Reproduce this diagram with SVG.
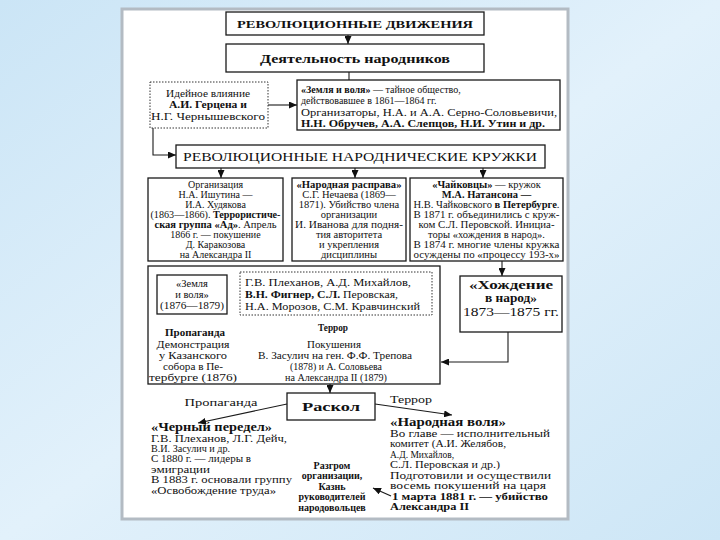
<svg xmlns="http://www.w3.org/2000/svg" width="720" height="540" viewBox="0 0 720 540">
<defs>
<linearGradient id="bg" x1="0" y1="0" x2="1" y2="1">
<stop offset="0" stop-color="#cbe5f6"/>
<stop offset="0.5" stop-color="#e2f1fb"/>
<stop offset="1" stop-color="#cde6f6"/>
</linearGradient>
<marker id="ah" markerWidth="8" markerHeight="7" refX="8" refY="3.5" orient="auto" markerUnits="userSpaceOnUse">
<path d="M0,0 L8,3.5 L0,7 z" fill="#111"/>
</marker>
<style>
.bx{fill:#fff;stroke:#1a1a1a;stroke-width:1.3}
.dt{fill:#fff;stroke:#333;stroke-width:1;stroke-dasharray:1.5,1.5}
.ln{fill:none;stroke:#1a1a1a;stroke-width:1.1}
.ar{fill:none;stroke:#1a1a1a;stroke-width:1.1;marker-end:url(#ah)}
text{font-family:"Liberation Serif","DejaVu Serif",serif;fill:#111}
.c{text-anchor:middle}
.b{font-weight:bold}
.s9{font-size:9.5px}
.s10{font-size:10px}
.s105{font-size:10.5px}
.s11{font-size:11px}
.s12{font-size:12px}
.s125{font-size:12.5px}
</style>
</defs>
<rect x="0" y="0" width="720" height="540" fill="url(#bg)"/>
<rect x="122" y="9" width="446" height="510" fill="#fff" stroke="#b3bbc3" stroke-width="3"/>

<g id="connectors">
<path class="ar" d="M348,35 V44"/>
<path class="ln" d="M349,72 V80"/>
<path class="ar" d="M268,105 H297"/>
<path class="ar" d="M153,128 V155 H176"/>
<path class="ar" d="M221,168 V178"/>
<path class="ar" d="M355,168 V178"/>
<path class="ar" d="M483,168 V178"/>
<path class="ar" d="M502,261 V276"/>
<path class="ar" d="M508,332 V362 H441"/>
<path class="ar" d="M188,314 V327"/>
<path class="ar" d="M226,313 L316,328"/>
<path class="ln" d="M340,333 V343"/>
<path class="ar" d="M330,384 V393"/>
<path class="ar" d="M287,404 L198,423"/>
<path class="ar" d="M375,404 L452,415"/>
<path class="ar" d="M391,496 L373,488"/>
</g>

<g id="n-revdv">
<rect class="bx" x="226" y="12" width="258" height="23"/>
<text class="c b s11" x="355" y="28" textLength="236" lengthAdjust="spacingAndGlyphs">РЕВОЛЮЦИОННЫЕ ДВИЖЕНИЯ</text>
</g>
<g id="n-deyat">
<rect class="bx" x="226" y="44" width="258" height="28"/>
<text class="c b s125" x="355" y="63" textLength="190" lengthAdjust="spacingAndGlyphs">Деятельность народников</text>
</g>
<g id="n-ideya">
<rect class="dt" x="150" y="82" width="118" height="46"/>
<text class="c s10" x="208" y="97" textLength="84" lengthAdjust="spacingAndGlyphs">Идейное влияние</text>
<text class="c b s105" x="208" y="108" textLength="78" lengthAdjust="spacingAndGlyphs">А.И. Герцена и</text>
<text class="c s105" x="208" y="120" textLength="114" lengthAdjust="spacingAndGlyphs">Н.Г. Чернышевского</text>
</g>
<g id="n-zv1861">
<rect class="bx" x="297" y="80" width="263" height="50"/>
<text class="s10" x="301" y="93"><tspan class="b">«Земля и воля»</tspan> — тайное общество,</text>
<text class="s10" x="301" y="104">действовавшее в 1861—1864 гг.</text>
<text class="s11" x="301" y="116" textLength="256" lengthAdjust="spacingAndGlyphs">Организаторы, Н.А. и А.А. Серно-Соловьевичи,</text>
<text class="s11 b" x="301" y="127" textLength="244" lengthAdjust="spacingAndGlyphs">Н.Н. Обручев, А.А. Слепцов, Н.И. Утин и др.</text>
</g>
<g id="n-kruzhki">
<rect class="bx" x="176" y="145" width="369" height="23"/>
<text class="c s125" x="360" y="161" textLength="354" lengthAdjust="spacingAndGlyphs">РЕВОЛЮЦИОННЫЕ НАРОДНИЧЕСКИЕ КРУЖКИ</text>
</g>
<g id="n-ishutin">
<rect class="bx" x="148" y="178" width="135" height="83"/>
<text class="c s10" x="215.5" y="188">Организация</text>
<text class="c s10" x="215.5" y="198">Н.А. Ишутина —</text>
<text class="c s10" x="215.5" y="208">И.А. Худякова</text>
<text class="c s10" x="215.5" y="218" textLength="130" lengthAdjust="spacingAndGlyphs">(1863—1866). <tspan class="b">Террористиче-</tspan></text>
<text class="c s10" x="215.5" y="228" textLength="122" lengthAdjust="spacingAndGlyphs"><tspan class="b">ская группа «Ад»</tspan>. Апрель</text>
<text class="c s10" x="215.5" y="238">1866 г. — покушение</text>
<text class="c s10" x="215.5" y="248">Д. Каракозова</text>
<text class="c s10" x="215.5" y="258">на Александра II</text>
</g>
<g id="n-nechaev">
<rect class="bx" x="292" y="178" width="114" height="83"/>
<text class="c s105 b" x="349" y="188" textLength="105" lengthAdjust="spacingAndGlyphs">«Народная расправа»</text>
<text class="c s105" x="349" y="198">С.Г. Нечаева (1869—</text>
<text class="c s105" x="349" y="208">1871). Убийство члена</text>
<text class="c s105" x="349" y="218">организации</text>
<text class="c s105" x="349" y="228" textLength="108" lengthAdjust="spacingAndGlyphs">И. Иванова для подня-</text>
<text class="c s105" x="349" y="238">тия авторитета</text>
<text class="c s105" x="349" y="248">и укрепления</text>
<text class="c s105" x="349" y="258">дисциплины</text>
</g>
<g id="n-chaikovtsy">
<rect class="bx" x="410" y="178" width="153" height="83"/>
<text class="c s105" x="486.5" y="188"><tspan class="b">«Чайковцы»</tspan> — кружок</text>
<text class="c s105 b" x="486.5" y="198">М.А. Натансона —</text>
<text class="c s105" x="486.5" y="208" textLength="146" lengthAdjust="spacingAndGlyphs">Н.В. Чайковского <tspan class="b">в Петербурге</tspan>.</text>
<text class="c s105" x="486.5" y="218" textLength="146" lengthAdjust="spacingAndGlyphs">В 1871 г. объединились с круж-</text>
<text class="c s105" x="486.5" y="228" textLength="136" lengthAdjust="spacingAndGlyphs">ком С.Л. Перовской. Инициа-</text>
<text class="c s105" x="486.5" y="238">торы «хождения в народ».</text>
<text class="c s105" x="486.5" y="248" textLength="146" lengthAdjust="spacingAndGlyphs">В 1874 г. многие члены кружка</text>
<text class="c s105" x="486.5" y="258" textLength="146" lengthAdjust="spacingAndGlyphs">осуждены по «процессу 193-х»</text>
</g>
<g id="n-khozhdenie">
<rect class="bx" x="460" y="276" width="102" height="56"/>
<text class="c b s12" x="511" y="289" textLength="84" lengthAdjust="spacingAndGlyphs">«Хождение</text>
<text class="c b s12" x="511" y="302" textLength="52" lengthAdjust="spacingAndGlyphs">в народ»</text>
<text class="c s12" x="511" y="316" textLength="96" lengthAdjust="spacingAndGlyphs">1873—1875 гг.</text>
</g>
<g id="n-zv1876-group">
<rect class="bx" x="148" y="266" width="292" height="118"/>
</g>
<g id="n-zv1876">
<rect class="bx" x="157" y="275" width="70" height="39"/>
<text class="c s105" x="192" y="287">«Земля</text>
<text class="c s105" x="192" y="298">и воля»</text>
<text class="c s105" x="192" y="309" textLength="64" lengthAdjust="spacingAndGlyphs">(1876—1879)</text>
</g>
<g id="n-members">
<rect class="dt" x="240" y="272" width="192" height="43"/>
<text class="s105" x="245" y="286" textLength="166" lengthAdjust="spacingAndGlyphs">Г.В. Плеханов, А.Д. Михайлов,</text>
<text class="s105" x="245" y="298" textLength="153" lengthAdjust="spacingAndGlyphs"><tspan class="b">В.Н. Фигнер, С.Л.</tspan> Перовская,</text>
<text class="s105" x="245" y="310" textLength="175" lengthAdjust="spacingAndGlyphs">Н.А. Морозов, С.М. Кравчинский</text>
</g>
<g id="n-propaganda1">
<text class="c b s9" x="195" y="336" textLength="60" lengthAdjust="spacingAndGlyphs">Пропаганда</text>
<text class="c s11" x="193" y="348" textLength="73" lengthAdjust="spacingAndGlyphs">Демонстрация</text>
<text class="c s11" x="193" y="359" textLength="68" lengthAdjust="spacingAndGlyphs">у Казанского</text>
<text class="c s11" x="193" y="370" textLength="60" lengthAdjust="spacingAndGlyphs">собора в Пе-</text>
<text class="c s11" x="193" y="381" textLength="88" lengthAdjust="spacingAndGlyphs">тербурге (1876)</text>
</g>
<g id="n-terror1">
<text class="b s9" x="318" y="331" textLength="30" lengthAdjust="spacingAndGlyphs">Террор</text>
<text class="c s11" x="334" y="348" textLength="54" lengthAdjust="spacingAndGlyphs">Покушения</text>
<text class="c s11" x="335" y="359" textLength="154" lengthAdjust="spacingAndGlyphs">В. Засулич на ген. Ф.Ф. Трепова</text>
<text class="c s11" x="336" y="370" textLength="92" lengthAdjust="spacingAndGlyphs">(1878) и А. Соловьева</text>
<text class="c s11" x="336" y="381" textLength="102" lengthAdjust="spacingAndGlyphs">на Александра II (1879)</text>
</g>
<g id="n-raskol">
<rect class="bx" x="287" y="393" width="88" height="27"/>
<text class="c b s125" x="331" y="411" textLength="58" lengthAdjust="spacingAndGlyphs">Раскол</text>
</g>
<text class="c s11" x="221" y="406" textLength="73" lengthAdjust="spacingAndGlyphs">Пропаганда</text>
<text class="c s11" x="411" y="403" textLength="42" lengthAdjust="spacingAndGlyphs">Террор</text>
<g id="n-chperedel">
<text class="b s12" x="151" y="431" textLength="121" lengthAdjust="spacingAndGlyphs">«Черный передел»</text>
<text class="s10" x="151" y="442" textLength="136" lengthAdjust="spacingAndGlyphs">Г.В. Плеханов, Л.Г. Дейч,</text>
<text class="s10" x="151" y="452" textLength="79" lengthAdjust="spacingAndGlyphs">В.И. Засулич и др.</text>
<text class="s10" x="151" y="462" textLength="100" lengthAdjust="spacingAndGlyphs">С 1880 г. — лидеры в</text>
<text class="s10" x="151" y="473" textLength="59" lengthAdjust="spacingAndGlyphs">эмиграции</text>
<text class="s10" x="151" y="483" textLength="141" lengthAdjust="spacingAndGlyphs">В 1883 г. основали группу</text>
<text class="s10" x="151" y="494" textLength="125" lengthAdjust="spacingAndGlyphs">«Освобождение труда»</text>
</g>
<g id="n-nvolya">
<text class="b s12" x="390" y="426" textLength="116" lengthAdjust="spacingAndGlyphs">«Народная воля»</text>
<text class="s10" x="390" y="437" textLength="160" lengthAdjust="spacingAndGlyphs">Во главе — исполнительный</text>
<text class="s10" x="390" y="447" textLength="116" lengthAdjust="spacingAndGlyphs">комитет (А.И. Желябов,</text>
<text class="s10" x="390" y="458" textLength="64" lengthAdjust="spacingAndGlyphs">А.Д. Михайлов,</text>
<text class="s10" x="390" y="468" textLength="110" lengthAdjust="spacingAndGlyphs">С.Л. Перовская и др.)</text>
<text class="s10" x="390" y="479" textLength="161" lengthAdjust="spacingAndGlyphs">Подготовили и осуществили</text>
<text class="s10" x="390" y="489" textLength="156" lengthAdjust="spacingAndGlyphs">восемь покушений на царя</text>
<text class="b s10" x="392" y="500" textLength="156" lengthAdjust="spacingAndGlyphs">1 марта 1881 г. — убийство</text>
<text class="b s10" x="390" y="510" textLength="79" lengthAdjust="spacingAndGlyphs">Александра II</text>
</g>
<g id="n-razgrom">
<text class="c b s10" x="332" y="469">Разгром</text>
<text class="c b s10" x="332" y="479">организации,</text>
<text class="c b s10" x="332" y="490">Казнь</text>
<text class="c b s10" x="332" y="500">руководителей</text>
<text class="c b s10" x="332" y="511">народовольцев</text>
</g>
</svg>
